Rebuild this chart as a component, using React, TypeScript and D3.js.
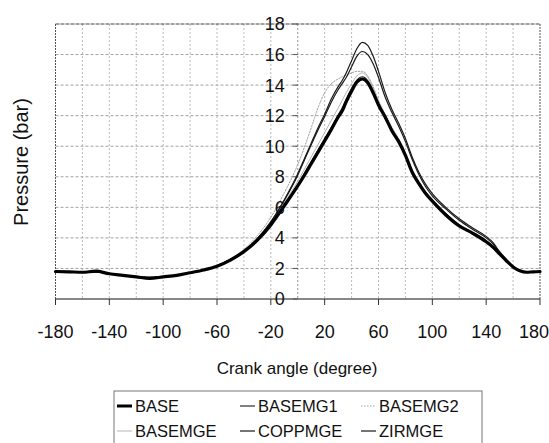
import React from "react";
import * as d3 from "d3";

const angles = [-180,-170,-160,-150,-140,-130,-120,-110,-100,-90,-80,-70,-60,-50,-40,-30,-20,-10,0,5,10,15,20,25,30,33,36,40,44,48,52,56,60,65,70,75,80,85,90,95,100,110,120,130,140,145,150,155,160,165,170,175,180];

const base =     [1.8,1.78,1.75,1.82,1.65,1.55,1.45,1.35,1.45,1.55,1.72,1.9,2.15,2.55,3.1,3.85,4.85,6.1,7.4,8.1,8.85,9.6,10.35,11.1,11.9,12.3,12.9,13.6,14.2,14.4,14.15,13.5,12.7,11.9,11.0,10.3,9.4,8.3,7.55,6.9,6.4,5.5,4.78,4.3,3.75,3.4,2.95,2.5,2.1,1.85,1.75,1.78,1.8];
const basemg1 =  [1.8,1.78,1.75,1.78,1.65,1.55,1.45,1.4,1.45,1.55,1.72,1.9,2.15,2.55,3.12,3.9,4.9,6.2,7.5,8.25,9.0,9.75,10.5,11.25,12.05,12.5,13.1,13.8,14.35,14.55,14.3,13.6,12.8,12.0,11.1,10.4,9.5,8.4,7.65,7.0,6.5,5.6,4.85,4.35,3.8,3.45,3.0,2.55,2.12,1.86,1.75,1.78,1.8];
const basemg2 =  [1.8,1.78,1.75,1.78,1.65,1.55,1.45,1.42,1.45,1.55,1.72,1.92,2.2,2.65,3.25,4.15,5.35,6.95,8.8,9.95,11.2,12.5,13.5,14.1,14.4,14.55,14.65,14.8,14.9,14.9,14.6,13.9,13.0,12.1,11.25,10.5,9.6,8.5,7.7,7.0,6.45,5.6,4.9,4.4,3.85,3.5,3.0,2.55,2.12,1.86,1.75,1.78,1.8];
const basemge =  [1.8,1.78,1.75,1.78,1.65,1.55,1.45,1.42,1.45,1.55,1.72,1.9,2.17,2.58,3.15,3.92,4.95,6.3,7.7,8.5,9.3,10.1,10.9,11.7,12.5,13.0,13.5,14.1,14.6,14.8,14.5,13.8,12.9,12.05,11.15,10.45,9.5,8.45,7.65,7.0,6.5,5.6,4.85,4.35,3.8,3.45,3.0,2.55,2.12,1.86,1.75,1.78,1.8];
const coppmge =  [1.8,1.78,1.75,1.78,1.65,1.55,1.45,1.42,1.45,1.55,1.72,1.9,2.17,2.6,3.15,3.95,5.05,6.45,8.1,9.1,10.1,11.05,11.95,12.9,13.7,14.1,14.5,15.2,15.9,16.2,16.0,15.4,14.5,13.2,12.2,11.3,10.3,9.15,8.15,7.35,6.75,5.9,5.15,4.55,4.0,3.62,3.05,2.58,2.14,1.85,1.75,1.78,1.8];
const zirmge =   [1.8,1.78,1.75,1.78,1.65,1.55,1.45,1.42,1.45,1.55,1.72,1.9,2.17,2.6,3.15,3.95,5.05,6.5,8.2,9.2,10.2,11.2,12.1,13.1,13.9,14.3,14.8,15.6,16.4,16.8,16.6,15.9,14.9,13.5,12.4,11.5,10.5,9.3,8.3,7.5,6.9,6.0,5.25,4.65,4.1,3.7,3.1,2.6,2.15,1.85,1.75,1.78,1.8];

const seriesNames = ["BASE","BASEMG1","BASEMG2","BASEMGE","COPPMGE","ZIRMGE"];
const xTicks = [-180,-140,-100,-60,-20,20,60,100,140,180];
const yTicks = [0,2,4,6,8,10,12,14,16,18];
const xGrid = [-160,-140,-120,-100,-80,-60,-40,-20,0,20,40,60,80,100,120,140,160];

const W = 549, H = 443;
const FONT = "Arial, 'Liberation Sans', sans-serif";

const styles: Record<string, {stroke: string; width: number; dash?: string}> = {
  BASE: { stroke: "#000", width: 3.2 },
  BASEMG1: { stroke: "#1a1a1a", width: 1.1 },
  BASEMG2: { stroke: "#a0a0a0", width: 1, dash: "1.5,1.5" },
  BASEMGE: { stroke: "#b5b5b5", width: 1 },
  COPPMGE: { stroke: "#1a1a1a", width: 1.2 },
  ZIRMGE: { stroke: "#1a1a1a", width: 1.2 },
};

export default function App() {
  const x = d3.scaleLinear().domain([-180, 180]).range([55.5, 540]);
  const y = d3.scaleLinear().domain([0, 18]).range([299, 24]);
  const valuesByName: Record<string, number[]> = {
    BASE: base, BASEMG1: basemg1, BASEMG2: basemg2, BASEMGE: basemge, COPPMGE: coppmge, ZIRMGE: zirmge,
  };
  const line = d3.line<[number, number]>().x(d => x(d[0])).y(d => y(d[1])).curve(d3.curveMonotoneX);
  const drawOrder = ["BASEMGE", "BASEMG2", "BASEMG1", "COPPMGE", "ZIRMGE", "BASE"];

  const legendCols = [117, 240, 361];
  const legendRows = [406, 431];

  return (
    <svg width={W} height={H} style={{ position: "absolute", left: 0, top: 0, background: "#fff" }} fontFamily={FONT}>
      <rect x={0} y={0} width={W} height={H} fill="#fff" />
      {yTicks.slice(1, -1).map(t => (
        <line key={"gy" + t} x1={x(-180)} x2={x(180)} y1={y(t)} y2={y(t)} stroke="#8a8a8a" strokeWidth={0.8} strokeDasharray="3,2" />
      ))}
      {xGrid.map(t => (
        <line key={"gx" + t} x1={x(t)} x2={x(t)} y1={y(18)} y2={y(0)} stroke={t === 0 ? "#777" : "#a8a8a8"} strokeWidth={0.8} strokeDasharray="2,2" />
      ))}
      <line x1={x(-180)} x2={x(180)} y1={y(18)} y2={y(18)} stroke="#444" strokeWidth={1} strokeDasharray="4,1" />
      <line x1={x(-180)} x2={x(-180)} y1={y(18)} y2={y(0)} stroke="#555" strokeWidth={1} strokeDasharray="2,1" />
      <line x1={x(180)} x2={x(180)} y1={y(18)} y2={y(0)} stroke="#555" strokeWidth={1} strokeDasharray="2,1" />
      <line x1={x(-180)} x2={x(180)} y1={y(0)} y2={y(0)} stroke="#111" strokeWidth={1.2} />
      {xTicks.map(t => (
        <line key={"xt" + t} x1={x(t)} x2={x(t)} y1={y(0)} y2={y(0) + 6} stroke="#333" strokeWidth={1} />
      ))}
      {yTicks.map(t => (
        <line key={"yt" + t} x1={x(0) - 5} x2={x(0)} y1={y(t)} y2={y(t)} stroke="#555" strokeWidth={1} />
      ))}
      {drawOrder.map(name => {
        const vals = valuesByName[name];
        const pts = angles.map((a, i) => [a, vals[i]] as [number, number]);
        const s = styles[name];
        return (
          <path key={name} d={line(pts) || ""} fill="none" stroke={s.stroke} strokeWidth={s.width}
            strokeDasharray={s.dash} strokeLinejoin="round" strokeLinecap="round" />
        );
      })}
      {yTicks.map(t => (
        <text key={"yl" + t} x={x(0) - 13} y={y(t)} dy="0.36em" textAnchor="end" fontSize={18} fill="#111">{t}</text>
      ))}
      {xTicks.map(t => (
        <text key={"xl" + t} x={t === 180 ? x(t) - 6 : x(t)} y={338} textAnchor="middle" fontSize={18} fill="#111">{t}</text>
      ))}
      <text x={297} y={374} textAnchor="middle" fontSize={17} fill="#111">Crank angle (degree)</text>
      <text transform={`translate(28,162) rotate(-90)`} textAnchor="middle" fontSize={20} fill="#111">Pressure (bar)</text>
      <rect x={114} y={391} width={368} height={70} fill="#fff" stroke="#777" strokeWidth={1} />
      {seriesNames.map((name, i) => {
        const col = i % 3, row = Math.floor(i / 3);
        const lx = legendCols[col], ly = legendRows[row];
        const s = styles[name];
        return (
          <g key={"lg" + name}>
            <line x1={lx} x2={lx + 15} y1={ly} y2={ly} stroke={s.stroke} strokeWidth={name === "BASE" ? 3 : s.width} strokeDasharray={s.dash} />
            <text x={lx + 18} y={ly} dy="0.36em" fontSize={16.5} fill="#111">{name}</text>
          </g>
        );
      })}
    </svg>
  );
}
